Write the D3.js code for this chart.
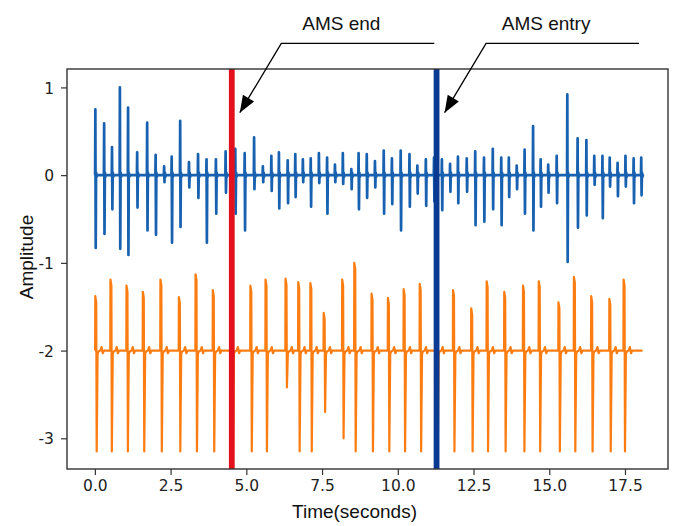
<!DOCTYPE html>
<html>
<head>
<meta charset="utf-8">
<script src="https://cdn.jsdelivr.net/npm/d3@7"></script>
<style>
  body { margin: 0; background: #fff; }
  .tick text { font-family: "DejaVu Sans", sans-serif; font-size: 15.5px; fill: #222; }
  .tick line { stroke: #333; stroke-width: 1.2; }
</style>
</head>
<body>
<div id="chart"></div>
<script>
// blue trace (top): spike times (s), positive peak and negative trough
const blueTimes = [0.02, 0.31, 0.57, 0.83, 1.10, 1.40, 1.73, 2.01, 2.29, 2.54, 2.82, 3.11, 3.41, 3.69, 4.00, 4.32,
  4.64, 4.95, 5.26, 5.55, 5.83, 6.08, 6.37, 6.62, 6.87, 7.13, 7.40, 7.67, 7.93, 8.19, 8.47, 8.71,
  8.98, 9.25, 9.54, 9.81, 10.10, 10.39, 10.65, 10.93, 11.20, 11.46, 11.73, 11.99, 12.28, 12.56, 12.85, 13.14,
  13.42, 13.67, 13.93, 14.19, 14.47, 14.72, 14.97, 15.25, 15.60, 15.94, 16.23, 16.49, 16.76, 17.00, 17.26, 17.52,
  17.79, 18.04];
const blueTops = [0.75, 0.59, 0.32, 1.00, 0.77, 0.26, 0.60, 0.23, 0.10, 0.21, 0.62, 0.15, 0.24, 0.18, 0.18, 0.27,
  0.30, 0.25, 0.43, 0.10, 0.22, 0.26, 0.17, 0.24, 0.18, 0.19, 0.25, 0.20, 0.12, 0.25, 0.07, 0.25,
  0.24, 0.16, 0.28, 0.19, 0.28, 0.24, 0.11, 0.18, 0.20, 0.18, 0.13, 0.21, 0.19, 0.27, 0.20, 0.30,
  0.20, 0.20, 0.11, 0.29, 0.56, 0.18, 0.12, 0.22, 0.92, 0.42, 0.40, 0.22, 0.22, 0.20, 0.14, 0.22,
  0.19, 0.20];
const blueBottoms = [-0.83, -0.67, -0.39, -0.84, -0.91, -0.37, -0.63, -0.68, -0.08, -0.77, -0.59, -0.14, -0.26, -0.77, -0.44, -0.20,
  -0.44, -0.63, -0.16, -0.08, -0.18, -0.38, -0.32, -0.25, -0.08, -0.36, -0.09, -0.44, -0.08, -0.10, -0.16, -0.39,
  -0.26, -0.14, -0.44, -0.33, -0.63, -0.36, -0.21, -0.35, -0.30, -0.40, -0.19, -0.32, -0.19, -0.57, -0.53, -0.39,
  -0.57, -0.25, -0.16, -0.44, -0.63, -0.36, -0.20, -0.32, -0.99, -0.60, -0.46, -0.11, -0.49, -0.13, -0.24, -0.13,
  -0.32, -0.23];

// orange trace (bottom): beat times (s), peak and trough
const orangeTimes = [0.02, 0.52, 1.05, 1.59, 2.17, 2.78, 3.33, 3.90, 4.52, 5.14, 5.64, 6.30, 6.72, 7.12, 7.56, 8.17,
  8.57, 9.14, 9.68, 10.20, 10.73, 11.28, 11.83, 12.43, 12.94, 13.52, 14.14, 14.66, 15.31, 15.82, 16.39, 16.99, 17.46];
const orangePeaks = [-1.38, -1.19, -1.26, -1.33, -1.19, -1.39, -1.13, -1.31, -1.30, -1.26, -1.19, -1.18, -1.22, -1.23, -1.57, -1.19,
  -1.00, -1.35, -1.40, -1.30, -1.24, -1.30, -1.31, -1.52, -1.21, -1.33, -1.26, -1.21, -1.45, -1.16, -1.38, -1.41, -1.19];
const orangeTroughs = [-3.15, -3.15, -3.15, -3.15, -3.15, -3.15, -3.15, -3.15, -3.15, -3.15, -3.15, -2.42, -3.15, -3.15, -2.70, -3.00,
  -3.15, -3.15, -3.15, -3.15, -3.15, -3.15, -3.15, -3.15, -3.15, -3.15, -3.15, -3.15, -3.15, -3.15, -3.15, -3.15, -3.15];

const blueBase = 0;
const orangeBase = -2;
const signalEnd = 18.08;

const markerTimes = [4.52, 11.28];
const markerLabels = ['AMS end', 'AMS entry'];
const markerColors = ['#e3111b', '#0b3a93'];

const xTicks = [0, 2.5, 5, 7.5, 10, 12.5, 15, 17.5];
const yTicks = [1, 0, -1, -2, -3];

const width = 674, height = 526;
const margin = { top: 69, right: 6, bottom: 57, left: 67 };
const innerW = width - margin.left - margin.right;
const innerH = height - margin.top - margin.bottom;

const svg = d3.select('#chart').append('svg')
  .attr('width', width)
  .attr('height', height)
  .style('font-family', '"Liberation Sans", Arial, sans-serif');

const g = svg.append('g').attr('transform', `translate(${margin.left},${margin.top})`);

const x = d3.scaleLinear().domain([-0.92, 18.92]).range([0, innerW]);
const y = d3.scaleLinear().domain([-3.35, 1.21]).range([innerH, 0]);

// build traces from the beat tables
const bluePts = [[0, blueBase]];
blueTimes.forEach((t, i) => {
  bluePts.push([t - 0.012, blueBase], [t - 0.004, blueTops[i]], [t + 0.008, blueBottoms[i]],
    [t + 0.02, blueBase + 0.03], [t + 0.035, blueBase - 0.02], [t + 0.05, blueBase]);
});
bluePts.push([signalEnd, blueBase]);

const orangePts = [[0, orangeBase]];
orangeTimes.forEach((t, i) => {
  const p = orangePeaks[i];
  orangePts.push([t - 0.012, orangeBase], [t - 0.006, p], [t + 0.025, p - 0.07], [t + 0.04, orangeTroughs[i]],
    [t + 0.07, orangeBase - 0.04], [t + 0.1, orangeBase - 0.01], [t + 0.16, orangeBase],
    [t + 0.2, orangeBase + 0.04], [t + 0.24, orangeBase - 0.03], [t + 0.28, orangeBase]);
});
orangePts.push([signalEnd, orangeBase]);

const line = d3.line().x(d => x(d[0])).y(d => y(d[1]));

g.append('path').datum(orangePts)
  .attr('d', line).attr('fill', 'none')
  .attr('stroke', '#fb7d12').attr('stroke-width', 2.2).attr('stroke-linejoin', 'round');

g.append('path').datum(bluePts)
  .attr('d', line).attr('fill', 'none')
  .attr('stroke', '#1761b0').attr('stroke-width', 2.7).attr('stroke-linejoin', 'round');

// marker lines
g.selectAll('.marker').data(markerTimes).join('line')
  .attr('class', 'marker')
  .attr('x1', d => x(d)).attr('x2', d => x(d))
  .attr('y1', 0).attr('y2', innerH)
  .attr('stroke', (d, i) => markerColors[i])
  .attr('stroke-width', 5.8);

// axes
const xAxis = g.append('g')
  .attr('transform', `translate(0,${innerH})`)
  .call(d3.axisBottom(x).tickValues(xTicks).tickFormat(d3.format('.1f')).tickSize(6).tickPadding(5));
const yAxis = g.append('g')
  .call(d3.axisLeft(y).tickValues(yTicks).tickFormat(d => d < 0 ? '-' + Math.abs(d) : d).tickSize(6).tickPadding(7));
xAxis.select('.domain').remove();
yAxis.select('.domain').remove();
yAxis.selectAll('.tick text').attr('dy', '0.36em');

g.append('rect')
  .attr('width', innerW).attr('height', innerH)
  .attr('fill', 'none').attr('stroke', '#333').attr('stroke-width', 1.4);

// axis titles
svg.append('text')
  .attr('x', margin.left + innerW / 2 - 13).attr('y', 518)
  .attr('text-anchor', 'middle').attr('font-size', 19).attr('fill', '#111')
  .text('Time(seconds)');
svg.append('text')
  .attr('transform', `translate(33,${margin.top + innerH / 2 - 12}) rotate(-90)`)
  .attr('text-anchor', 'middle').attr('font-size', 19).attr('fill', '#111')
  .text('Amplitude');

// annotations: arrow from an elbow above the plot down to the marker line
const ann = svg.append('g');
markerTimes.forEach((t, i) => {
  const tipX = margin.left + x(t) + 8, tipY = 112.7;
  const elbowX = tipX + 41.5, elbowY = 43.3;
  ann.append('polyline')
    .attr('points', [[elbowX + 153, elbowY], [elbowX, elbowY], [tipX, tipY]].map(p => p.join(',')).join(' '))
    .attr('fill', 'none').attr('stroke', '#000').attr('stroke-width', 1.3);
  const ang = Math.atan2(tipY - elbowY, tipX - elbowX);
  const len = 17, half = 6.5;
  const bx = tipX - len * Math.cos(ang), by = tipY - len * Math.sin(ang);
  const px = -Math.sin(ang) * half, py = Math.cos(ang) * half;
  ann.append('polygon')
    .attr('points', [[tipX, tipY], [bx + px, by + py], [bx - px, by - py]].map(p => p.join(',')).join(' '))
    .attr('fill', '#000');
  ann.append('text')
    .attr('x', elbowX + 60).attr('y', 30)
    .attr('text-anchor', 'middle').attr('font-size', 19).attr('fill', '#111')
    .text(markerLabels[i]);
});
</script>
</body>
</html>
